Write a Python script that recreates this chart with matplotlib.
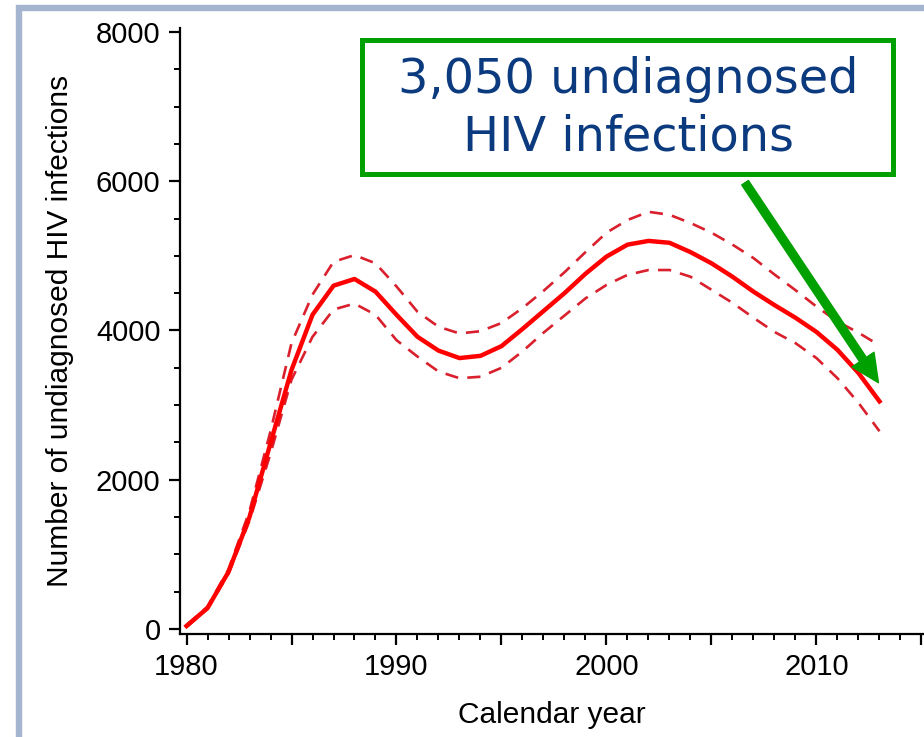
import numpy as np
import matplotlib.pyplot as plt
from matplotlib.patches import Rectangle
from matplotlib.ticker import MultipleLocator

years = list(range(1980, 2014))

estimate = [40, 280, 765, 1500, 2490, 3470, 4210, 4600, 4690, 4520,
            4210, 3915, 3730, 3630, 3660, 3790, 4020, 4260, 4500, 4760,
            4990, 5150, 5200, 5175, 5050, 4900, 4720, 4520, 4340, 4170,
            3980, 3740, 3430, 3050]
upper = [50, 300, 800, 1580, 2650, 3830, 4480, 4920, 5010, 4900,
         4590, 4250, 4050, 3960, 3990, 4100, 4300, 4530, 4780, 5050,
         5310, 5480, 5590, 5550, 5440, 5310, 5150, 4970, 4750, 4540,
         4320, 4120, 3970, 3800]
lower = [25, 270, 740, 1450, 2350, 3340, 3915, 4280, 4360, 4210,
         3870, 3650, 3450, 3360, 3380, 3500, 3720, 3970, 4200, 4430,
         4610, 4745, 4810, 4810, 4720, 4545, 4370, 4170, 3980, 3830,
         3630, 3360, 3030, 2650]

x_ticks = [1980, 1985, 1990, 1995, 2000, 2005, 2010, 2015]
x_labels = ["1980", "", "1990", "", "2000", "", "2010", ""]
y_ticks = [0, 2000, 4000, 6000, 8000]

callout = "3,050 undiagnosed\nHIV infections"

plt.rcParams["font.family"] = ["Liberation Sans", "DejaVu Sans"]

fig = plt.figure(figsize=(9.24, 7.37), dpi=100)
ax = fig.add_axes([0.1948, 0.1398, 0.8052, 0.8223])

ax.plot(years, estimate, color="#ff0000", lw=3.2, solid_joinstyle="round", zorder=3)
for band in (upper, lower):
    ax.plot(years, band, color="#d9202c", lw=1.9, dashes=(5, 3.5), zorder=2)

ax.set_xlim(1979.69, 2015.12)
ax.set_ylim(-67, 8054)
ax.set_xticks(x_ticks)
ax.set_xticklabels(x_labels)
ax.xaxis.set_minor_locator(MultipleLocator(1))
ax.set_yticks(y_ticks)
ax.yaxis.set_minor_locator(MultipleLocator(500))

for s in ("top", "right"):
    ax.spines[s].set_visible(False)
for s in ("left", "bottom"):
    ax.spines[s].set_linewidth(1.6)

ax.tick_params(which="major", length=8, width=1.6, labelsize=21, pad=6)
ax.tick_params(which="minor", length=4, width=1.4)
ax.set_xlabel("Calendar year", fontsize=21.5, labelpad=14)
ax.set_ylabel("Number of undiagnosed HIV infections", fontsize=21.5, labelpad=16)

# callout arrow
ax.annotate("", xy=(2012.95, 3300), xytext=(2006.6, 5980),
            arrowprops=dict(facecolor="#00a000", edgecolor="#00a000",
                            width=5.8, headwidth=19, headlength=20, shrink=0),
            zorder=5)

# callout box
fig.add_artist(Rectangle((0.3918, 0.7639), 0.5747, 0.1818, transform=fig.transFigure,
                         fill=True, facecolor="white", edgecolor="#00a000", lw=3.6))
fig.text(0.680, 0.853, callout, ha="center", va="center", fontsize=34.5,
         color="#0b3a7e", family="DejaVu Sans", linespacing=1.3)

# slide frame
fig.add_artist(Rectangle((19 / 924, -0.5), 2.0, 1.5 - 8 / 737, transform=fig.transFigure,
                         fill=False, edgecolor="#a5b4cf", lw=4.6))

fig.savefig("out.png", dpi=100)
